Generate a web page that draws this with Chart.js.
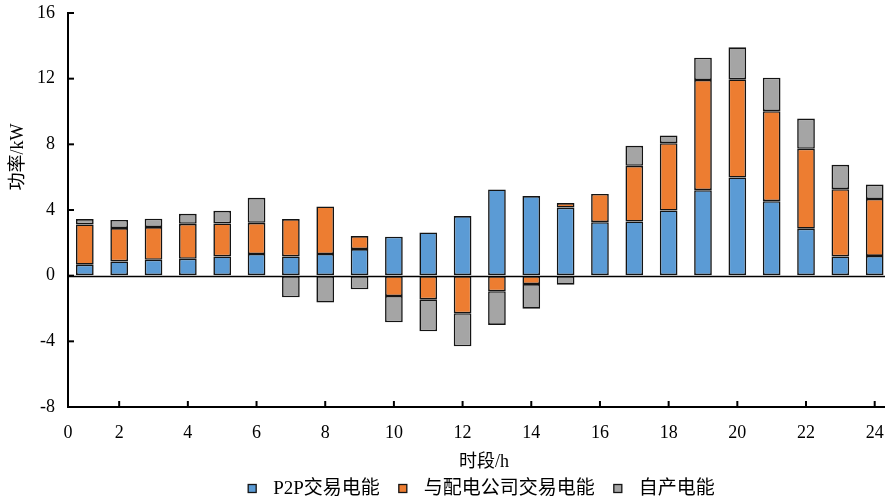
<!DOCTYPE html>
<html>
<head>
<meta charset="utf-8">
<script src="https://cdn.jsdelivr.net/npm/chart.js@4.4.1/dist/chart.umd.min.js"></script>
<style>
  html, body { margin: 0; padding: 0; background: #fff; }
  canvas { display: block; }
</style>
</head>
<body>
<canvas id="chart" width="885" height="504"></canvas>
<script>
// Hourly periods (h)
const hours = [1, 2, 3, 4, 5, 6, 7, 8, 9, 10, 11, 12, 13, 14, 15, 16, 17, 18, 19, 20, 21, 22, 23, 24];

// Power per period, kW
const p2pEnergy  = [0.67, 0.87, 0.97, 1.03, 1.17, 1.32, 1.17, 1.32, 1.62, 2.37, 2.63, 3.63,
                    5.25, 4.85, 4.15, 3.26, 3.30, 3.97, 5.21, 5.98, 4.54, 2.86, 1.17, 1.20];
const gridEnergy = [2.45, 2.03, 1.99, 2.13, 2.01, 1.90, 2.28, 2.90, 0.79, -1.24, -1.44, -2.29,
                    -0.95, -0.51, 0.27, 1.72, 3.39, 4.10, 6.71, 5.98, 5.48, 4.87, 4.10, 3.47];
const selfEnergy = [0.33, 0.49, 0.51, 0.61, 0.77, 1.52, -1.32, -1.64, -0.83, -1.60, -1.95, -2.01,
                    -2.05, -1.50, -0.55, -0.08, 1.22, 0.47, 1.36, 1.95, 2.04, 1.84, 1.48, 0.88];

const seriesNames = ['P2P交易电能', '与配电公司交易电能', '自产电能'];
const seriesColors = ['#5B9BD5', '#ED7D31', '#A5A5A5'];

const xTickValues = [2, 4, 6, 8, 10, 12, 14, 16, 18, 20, 22, 24];
const yTickValues = [-8, -4, 0, 4, 8, 12, 16];
const xTitle = '时段/h';
const yTitle = '功率/kW';

// Axis range: the origin label "0" sits at the left end of the x axis
const X_MIN = 0.51;
const X_MAX = 24.3;

const SERIF = "'Liberation Serif', 'Noto Sans CJK SC', serif";
const EDGE = '#141414';

const toPoints = vals => vals.map((v, i) => ({ x: hours[i], y: v }));

const decor = {
  id: 'decor',
  afterDatasetsDraw(chart) {
    const { ctx, chartArea: a, scales: { x, y } } = chart;
    ctx.save();
    ctx.strokeStyle = '#000';
    // zero line
    ctx.lineWidth = 1.6;
    const y0 = Math.round(y.getPixelForValue(0)) + 0.5;
    ctx.beginPath(); ctx.moveTo(a.left, y0); ctx.lineTo(a.right, y0); ctx.stroke();
    // inward tick marks
    ctx.lineWidth = 2;
    y.ticks.forEach(t => {
      const py = y.getPixelForValue(t.value);
      ctx.beginPath(); ctx.moveTo(a.left, py); ctx.lineTo(a.left + 6, py); ctx.stroke();
    });
    x.ticks.forEach(t => {
      if (t.value === X_MIN) return;
      const px = x.getPixelForValue(t.value);
      ctx.beginPath(); ctx.moveTo(px, a.bottom); ctx.lineTo(px, a.bottom - 6); ctx.stroke();
    });
    ctx.restore();
  },
  afterDraw(chart) {
    const { ctx } = chart;
    ctx.save();
    ctx.fillStyle = '#000';
    ctx.font = '18px ' + SERIF;
    ctx.textAlign = 'center';
    ctx.textBaseline = 'middle';
    // y-axis title
    ctx.save();
    ctx.translate(18.5, 157);
    ctx.rotate(-Math.PI / 2);
    ctx.fillText(yTitle, 0, 0);
    ctx.restore();
    // x-axis title
    ctx.fillText(xTitle, 484, 462);

    // legend
    ctx.font = '19px ' + SERIF;
    ctx.textAlign = 'left';
    const box = 8, textGap = 17, itemGap = 19;
    const items = chart.data.datasets.map(ds => ({
      label: ds.label, color: ds.backgroundColor, w: ctx.measureText(ds.label).width
    }));
    const total = items.reduce((s, it) => s + box + textGap + it.w, 0) + itemGap * (items.length - 1);
    let cx = 481.5 - total / 2;
    const cy = 488.5;
    items.forEach(it => {
      ctx.fillStyle = it.color;
      ctx.fillRect(cx, cy - box / 2, box, box);
      ctx.strokeStyle = EDGE;
      ctx.lineWidth = 1.3;
      ctx.strokeRect(cx, cy - box / 2, box, box);
      ctx.fillStyle = '#000';
      ctx.fillText(it.label, cx + box + textGap, cy + 1);
      cx += box + textGap + it.w + itemGap;
    });
    ctx.restore();
  }
};

const barStyle = { borderColor: EDGE, borderWidth: 1.6, borderSkipped: false,
                   barPercentage: 0.515, categoryPercentage: 1 };

new Chart(document.getElementById('chart'), {
  type: 'bar',
  data: {
    datasets: [
      { label: seriesNames[0], data: toPoints(p2pEnergy),  backgroundColor: seriesColors[0], ...barStyle },
      { label: seriesNames[1], data: toPoints(gridEnergy), backgroundColor: seriesColors[1], ...barStyle },
      { label: seriesNames[2], data: toPoints(selfEnergy), backgroundColor: seriesColors[2], ...barStyle }
    ]
  },
  options: {
    responsive: false,
    animation: false,
    devicePixelRatio: 1,
    layout: { padding: { top: 13, right: 0, left: 0, bottom: 0 } },
    plugins: { legend: { display: false }, tooltip: { enabled: false } },
    scales: {
      x: {
        type: 'linear',
        stacked: true,
        offset: false,
        min: X_MIN,
        max: X_MAX,
        afterBuildTicks: s => { s.ticks = [X_MIN, ...xTickValues].map(v => ({ value: v })); },
        afterFit: s => { s.height = 97; s.paddingLeft = 0; s.paddingRight = 0; },
        ticks: {
          color: '#000',
          font: { family: SERIF, size: 18 },
          padding: 15,
          maxRotation: 0,
          autoSkip: false,
          callback: v => (v === X_MIN ? '0' : String(v))
        },
        grid: { display: true, drawOnChartArea: false, drawTicks: false, offset: false },
        border: { display: true, color: '#000', width: 2 }
      },
      y: {
        stacked: true,
        min: -8,
        max: 16,
        afterBuildTicks: s => { s.ticks = yTickValues.map(v => ({ value: v })); },
        afterFit: s => { s.width = 68; s.paddingTop = 0; s.paddingBottom = 0; },
        ticks: {
          color: '#000',
          font: { family: SERIF, size: 18 },
          padding: 13
        },
        grid: { display: true, drawOnChartArea: false, drawTicks: false },
        border: { display: true, color: '#000', width: 2 }
      }
    }
  },
  plugins: [decor]
});
</script>
</body>
</html>
